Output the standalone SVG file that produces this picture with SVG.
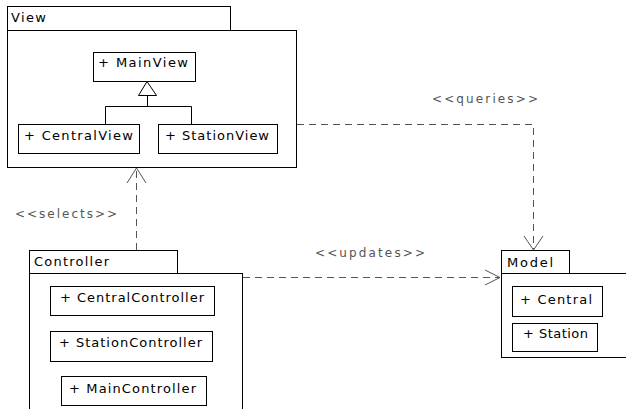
<svg xmlns="http://www.w3.org/2000/svg" width="626" height="409" viewBox="0 0 626 409">
<style>
.box{fill:#fff;stroke:#000;stroke-width:1}
.t{font-family:"DejaVu Sans",sans-serif;font-size:13px;fill:#000}
.lbl{font-family:"DejaVu Sans",sans-serif;font-size:12px;fill:#555}
.dep{fill:none;stroke:#555;stroke-width:1;stroke-dasharray:7 5}
.head{fill:none;stroke:#555;stroke-width:1}
</style>
<rect width="626" height="409" fill="#fff"/>
<g id="View">
<rect class="box" x="7.5" y="6.5" width="223" height="24"/>
<rect class="box" x="7.5" y="30.5" width="289" height="137"/>
<text class="t" x="11" y="22" textLength="35" lengthAdjust="spacing">View</text>
</g>
<g id="MainView">
<rect class="box" x="93.5" y="52.5" width="102" height="29"/>
<text class="t" x="98" y="67" textLength="90" lengthAdjust="spacing">+ MainView</text>
</g>
<g id="CentralView">
<rect class="box" x="18.5" y="124.5" width="121" height="29"/>
<text class="t" x="24" y="140" textLength="109" lengthAdjust="spacing">+ CentralView</text>
</g>
<g id="StationView">
<rect class="box" x="158.5" y="124.5" width="119" height="29"/>
<text class="t" x="165" y="140" textLength="104" lengthAdjust="spacing">+ StationView</text>
</g>
<g id="Controller">
<rect class="box" x="29.5" y="250.5" width="148" height="23"/>
<rect class="box" x="29.5" y="273.5" width="213" height="150"/>
<text class="t" x="34" y="266" textLength="75" lengthAdjust="spacing">Controller</text>
</g>
<g id="CentralController">
<rect class="box" x="50.5" y="286.5" width="164" height="29"/>
<text class="t" x="60" y="302" textLength="144" lengthAdjust="spacing">+ CentralController</text>
</g>
<g id="StationController">
<rect class="box" x="50.5" y="331.5" width="162" height="30"/>
<text class="t" x="59" y="347" textLength="143" lengthAdjust="spacing">+ StationController</text>
</g>
<g id="MainController">
<rect class="box" x="61.5" y="376.5" width="145" height="29"/>
<text class="t" x="69" y="393" textLength="127" lengthAdjust="spacing">+ MainController</text>
</g>
<g id="Model">
<rect class="box" x="501.5" y="250.5" width="68" height="23"/>
<rect class="box" x="501.5" y="273.5" width="140" height="84"/>
<text class="t" x="507" y="267" textLength="46" lengthAdjust="spacing">Model</text>
</g>
<g id="Central">
<rect class="box" x="512.5" y="286.5" width="90" height="30"/>
<text class="t" x="520" y="304" textLength="72" lengthAdjust="spacing">+ Central</text>
</g>
<g id="Station">
<rect class="box" x="512.5" y="323.5" width="85" height="28"/>
<text class="t" x="523" y="338" textLength="65" lengthAdjust="spacing">+ Station</text>
</g>
<g id="connectors">
<g id="generalization">
<polygon points="147,81.5 138.5,95.5 156.5,95.5" fill="#fff" stroke="#000"/>
<polyline points="147.5,95.5 147.5,106.5" fill="none" stroke="#000"/>
<polyline points="105.5,124 105.5,106.5 191.5,106.5 191.5,124" fill="none" stroke="#000"/>
</g>
<g id="selects">
<line class="dep" x1="136.5" y1="250" x2="136.5" y2="169"/>
<polyline class="head" points="127,183 136.5,168 146,183"/>
<text class="lbl" x="15" y="218" textLength="102" lengthAdjust="spacing">&lt;&lt;selects&gt;&gt;</text>
</g>
<g id="queries">
<polyline class="dep" points="297,124.5 533.5,124.5 533.5,249"/>
<polyline class="head" points="524,236 533.5,250 543,236"/>
<text class="lbl" x="432" y="103" textLength="106" lengthAdjust="spacing">&lt;&lt;queries&gt;&gt;</text>
</g>
<g id="updates">
<line class="dep" x1="243" y1="277.5" x2="499" y2="277.5"/>
<polyline class="head" points="485,270 500,277.5 485,285"/>
<text class="lbl" x="315" y="257" textLength="110" lengthAdjust="spacing">&lt;&lt;updates&gt;&gt;</text>
</g>
</g>
</svg>
